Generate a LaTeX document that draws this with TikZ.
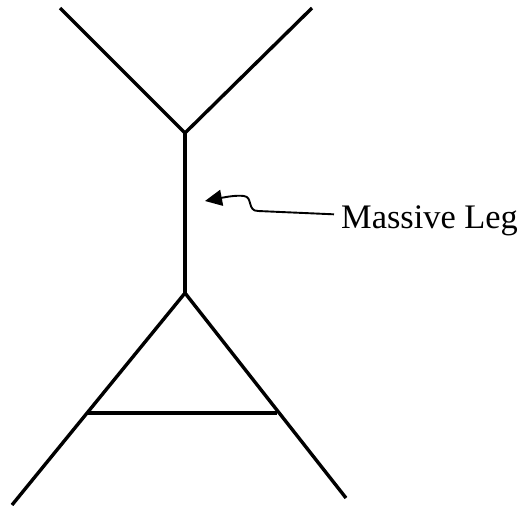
\documentclass[tikz,border=0pt]{standalone}
\usepackage{fontspec}
\setmainfont{Liberation Serif}
\usetikzlibrary{arrows.meta, positioning, calc}
\tikzset{
  leg/.style={line width=3.4pt, line cap=butt, line join=miter},
  label/.style={inner sep=0pt, anchor=base west, font=\fontsize{34.4}{40}\selectfont},
  pointer/.style={line width=1.9pt, -{Triangle[length=17pt, width=16pt]}},
}

\begin{document}
\begin{tikzpicture}[x=1pt, y=-1pt]
  \useasboundingbox (0,0) rectangle (523,506);
  \coordinate (topl)  at (60,8);
  \coordinate (topr)  at (312,8);
  \coordinate (upper) at (185,133);
  \coordinate (lower) at (185,293);
  \coordinate (botl)  at (12,505);
  \coordinate (botr)  at (346,498);
  \coordinate (barl)  at (88,413);
  \coordinate (barr)  at (277,413);
  \coordinate (tip)   at (205,201);
  \node (name) [label] at (341,228) {Massive Leg};

  \draw [leg] (topl) -- (upper) -- (topr);
  \draw [leg] (upper) -- (lower);
  \draw [leg] (botl) -- (lower) -- (botr);
  \draw [leg] (barl) -- (barr);
  \draw [pointer] ($(name.west)+(-7,-6)$) -- (258,211)
    .. controls (247,211) and (253,197) .. (244,196)
    .. controls (236,195) and (226,197) .. (tip);
\end{tikzpicture}
\end{document}
